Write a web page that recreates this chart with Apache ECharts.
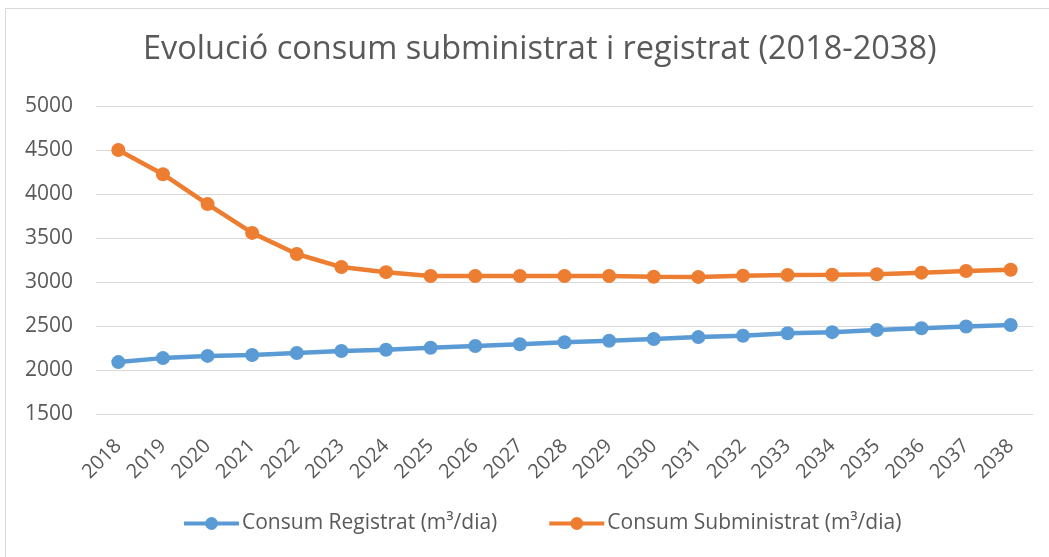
<!DOCTYPE html>
<html><head><meta charset="utf-8">
<script src="https://cdn.jsdelivr.net/npm/echarts@6/dist/echarts.min.js"></script>
<style>html,body{margin:0;padding:0;background:#fff}#c{width:1049px;height:557px}</style>
</head><body><div id="c"></div>
<script>
const years = ['2018','2019','2020','2021','2022','2023','2024','2025','2026','2027','2028','2029','2030','2031','2032','2033','2034','2035','2036','2037','2038'];
const registrat = [2090,2135,2160,2170,2193,2216,2230,2253,2273,2292,2315,2333,2352,2374,2390,2417,2430,2455,2474,2494,2511];
const subministrat = [4500,4225,3885,3558,3318,3170,3112,3068,3068,3068,3068,3068,3060,3058,3072,3080,3082,3088,3106,3125,3140];
const yTicks = {min:1500, max:5000, interval:500};
const names = ['Consum Registrat (m³/dia)','Consum Subministrat (m³/dia)'];
const FONT = 'Open Sans';
const chart = echarts.init(document.getElementById('c'));
chart.setOption({
  animation:false,
  backgroundColor:'#fff',
  graphic:[{type:'rect',shape:{x:5.5,y:8.5,width:1060,height:560},style:{fill:'none',stroke:'#d9d9d9',lineWidth:1}}],
  title:{text:'Evolució consum subministrat i registrat (2018-2038)',left:138,top:28,
    textStyle:{fontFamily:FONT,fontWeight:'normal',fontSize:32.5,color:'#595959'}},
  grid:{left:96,right:16,top:106,bottom:143,containLabel:false},
  legend:{top:508,left:177,itemWidth:55,itemHeight:16,itemGap:50,
    lineStyle:{width:4},
    textStyle:{fontFamily:FONT,fontSize:21,color:'#595959',padding:[0,0,0,-2]}},
  xAxis:{type:'category',data:years,boundaryGap:true,
    axisLine:{show:false},axisTick:{show:false},
    axisLabel:{rotate:45,fontFamily:FONT,fontSize:20,color:'#595959',margin:29}},
  yAxis:{type:'value',min:yTicks.min,max:yTicks.max,interval:yTicks.interval,
    axisLine:{show:false},axisTick:{show:false},
    splitLine:{lineStyle:{color:'#d9d9d9',width:1}},
    axisLabel:{fontFamily:FONT,fontSize:21,color:'#595959',margin:23,formatter:v=>String(v)}},
  series:[
    {name:names[0],type:'line',data:registrat,symbol:'circle',symbolSize:14,
      lineStyle:{width:4.5,color:'#5B9BD5'},itemStyle:{color:'#5B9BD5'}},
    {name:names[1],type:'line',data:subministrat,symbol:'circle',symbolSize:14,
      lineStyle:{width:4.5,color:'#ED7D31'},itemStyle:{color:'#ED7D31'}}
  ]
});
</script></body></html>
